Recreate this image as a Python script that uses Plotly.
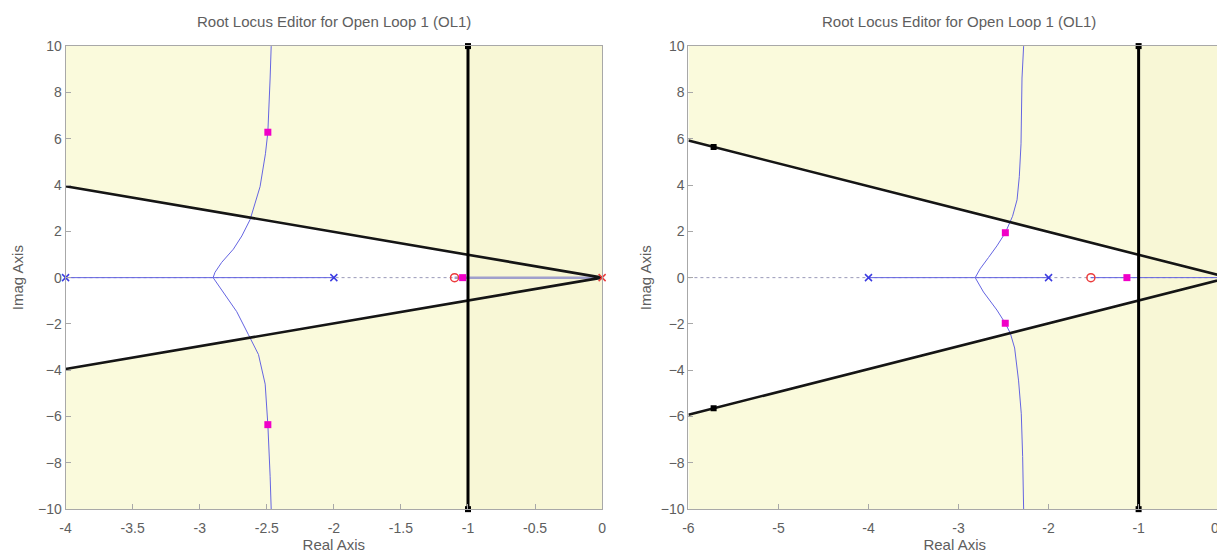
import plotly.graph_objects as go

# ---------------- data ----------------
title_text = "Root Locus Editor for Open Loop 1 (OL1)"
x_label = "Real Axis"
y_label = "Imag Axis"

y_range = [-10, 10]
y_ticks = [-10, -8, -6, -4, -2, 0, 2, 4, 6, 8, 10]

# left editor
L_x_range = [-4, 0]
L_x_ticks = [-4, -3.5, -3, -2.5, -2, -1.5, -1, -0.5, 0]
L_x_ticklabels = ["-4", "-3.5", "-3", "-2.5", "-2", "-1.5", "-1", "-0.5", "0"]
L_sigma = -1.0                    # settling-time constraint (vertical line)
L_damp_edge = (-4.0, 3.95)        # damping line end point at left border
L_plant_poles = [-4.0, -2.0]
L_comp_poles = [0.0]
L_comp_zeros = [-1.1]
L_cl_re = [-1.04, -2.492, -2.492]
L_cl_im = [0.0, 6.28, -6.35]
L_real_locus_a = [-4.0, -2.0]
L_real_locus_b = [-1.1, 0.0]
L_up_x = [-2.90, -2.886, -2.836, -2.749, -2.686, -2.624, -2.587, -2.55, -2.51, -2.492, -2.475, -2.467]
L_up_y = [0.0, 0.23, 0.66, 1.23, 1.80, 2.51, 3.22, 3.93, 5.35, 6.28, 8.62, 10.0]
L_lo_x = [-2.90, -2.824, -2.724, -2.637, -2.562, -2.512, -2.492, -2.475, -2.467]
L_lo_y = [0.0, -0.62, -1.47, -2.46, -3.32, -4.6, -6.35, -8.58, -10.0]

# right editor
R_x_range = [-6, -0.085]
R_x_ticks = [-6, -5, -4, -3, -2, -1, 0]
R_x_ticklabels = ["-6", "-5", "-4", "-3", "-2", "-1", "0"]
R_sigma = -1.0
R_damp_edge = (-6.0, 5.92)
R_damp_handle = (-5.72, 5.64)
R_plant_poles = [-4.0, -2.0]
R_comp_poles = [0.0]
R_comp_zeros = [-1.53]
R_cl_re = [-1.13, -2.48, -2.481]
R_cl_im = [0.0, 1.94, -1.97]
R_real_locus_a = [-4.0, -2.0]
R_real_locus_b = [-1.53, 0.0]
R_up_x = [-2.815, -2.76, -2.667, -2.574, -2.48, -2.444, -2.40, -2.35, -2.325, -2.306, -2.303, -2.295, -2.277]
R_up_y = [0.0, 0.38, 0.87, 1.37, 1.94, 2.29, 2.65, 3.36, 4.36, 5.78, 7.2, 8.62, 10.0]
R_lo_x = [-2.815, -2.723, -2.574, -2.481, -2.425, -2.377, -2.333, -2.303, -2.288, -2.277]
R_lo_y = [0.0, -0.62, -1.4, -1.97, -2.4, -3.04, -4.46, -5.88, -7.73, -10.0]

# ---------------- styles ----------------
FONT = "Liberation Sans, Arial, sans-serif"
TXT = "#5E5E5E"
AX = "#A8A8A8"
YEL = "#FAFADC"
YEL2 = "#F8F7D6"
LOCUS = "rgb(100,100,225)"
POLE = "rgb(60,60,225)"
COMP = "rgb(235,60,60)"
MAG = "#F000C8"

fig = go.Figure()


def add_editor(xa, ya, xr, sigma, edge, plant, cpoles, czeros, clre, clim,
               ra, rb, upx, upy, lox, loy, handle=None, real_thick=False):
    xmin, xmax = xr[0], 0.0
    ex, ey = edge
    y_at_sigma = ey * sigma / ex
    common = dict(xaxis=xa, yaxis=ya, showlegend=False, hoverinfo="skip")
    # forbidden regions (damping, left of sigma)
    fig.add_trace(go.Scatter(x=[xmin, sigma, sigma, xmin, xmin],
                             y=[y_range[1], y_range[1], y_at_sigma, ey, y_range[1]],
                             fill="toself", fillcolor=YEL, mode="none", **common))
    fig.add_trace(go.Scatter(x=[xmin, sigma, sigma, xmin, xmin],
                             y=[y_range[0], y_range[0], -y_at_sigma, -ey, y_range[0]],
                             fill="toself", fillcolor=YEL, mode="none", **common))
    # settling region right of sigma
    fig.add_trace(go.Scatter(x=[sigma, xmax, xmax, sigma, sigma],
                             y=[y_range[0], y_range[0], y_range[1], y_range[1], y_range[0]],
                             fill="toself", fillcolor=YEL2, mode="none", **common))
    # dotted real axis
    fig.add_trace(go.Scatter(x=[xmin, xmax], y=[0, 0], mode="lines",
                             line=dict(color="#9A9AB8", width=1, dash="dot"), **common))
    # real-axis locus
    fig.add_trace(go.Scatter(x=ra, y=[0, 0], mode="lines",
                             line=dict(color=LOCUS, width=1), **common))
    fig.add_trace(go.Scatter(x=rb, y=[0, 0], mode="lines",
                             line=dict(color="#A0A0CC" if real_thick else LOCUS,
                                       width=2.5 if real_thick else 1), **common))
    # complex branches
    fig.add_trace(go.Scatter(x=upx, y=upy, mode="lines", line=dict(color=LOCUS, width=1), **common))
    fig.add_trace(go.Scatter(x=lox, y=loy, mode="lines", line=dict(color=LOCUS, width=1), **common))
    # damping constraint lines
    fig.add_trace(go.Scatter(x=[ex, 0, ex], y=[ey, 0, -ey], mode="lines",
                             line=dict(color="#151515", width=2.6), **common))
    # settling constraint line
    fig.add_trace(go.Scatter(x=[sigma, sigma], y=y_range, mode="lines+markers",
                             line=dict(color="#000000", width=3),
                             marker=dict(symbol="square", size=6, color="#000000"),
                             cliponaxis=False, **common))
    if handle is not None:
        fig.add_trace(go.Scatter(x=[handle[0], handle[0]], y=[handle[1], -handle[1]],
                                 mode="markers", marker=dict(symbol="square", size=6, color="#000000"),
                                 **common))
    # poles / zeros
    fig.add_trace(go.Scatter(x=plant, y=[0] * len(plant), mode="markers", cliponaxis=False,
                             marker=dict(symbol="x-thin", size=7, color=POLE,
                                         line=dict(color=POLE, width=1.5)), **common))
    fig.add_trace(go.Scatter(x=cpoles, y=[0] * len(cpoles), mode="markers", cliponaxis=False,
                             marker=dict(symbol="x-thin", size=7, color=COMP,
                                         line=dict(color=COMP, width=1.5)), **common))
    fig.add_trace(go.Scatter(x=czeros, y=[0] * len(czeros), mode="markers", cliponaxis=False,
                             marker=dict(symbol="circle-open", size=8, color=COMP,
                                         line=dict(color=COMP, width=1.5)), **common))
    # closed-loop poles
    fig.add_trace(go.Scatter(x=clre, y=clim, mode="markers", cliponaxis=False,
                             marker=dict(symbol="square", size=7, color=MAG), **common))


add_editor("x", "y", L_x_range, L_sigma, L_damp_edge, L_plant_poles, L_comp_poles, L_comp_zeros,
           L_cl_re, L_cl_im, L_real_locus_a, L_real_locus_b, L_up_x, L_up_y, L_lo_x, L_lo_y,
           real_thick=True)
add_editor("x2", "y2", R_x_range, R_sigma, R_damp_edge, R_plant_poles, R_comp_poles, R_comp_zeros,
           R_cl_re, R_cl_im, R_real_locus_a, R_real_locus_b, R_up_x, R_up_y, R_lo_x, R_lo_y,
           handle=R_damp_handle)

# page body has an 8px margin: lay out in window pixels, shifted by that offset
OFF = 8
W, H = 1225 - OFF, 556 - OFF


def px_x(p):
    return (p - OFF) / W


def px_y(p):
    return 1 - (p - OFF) / H


L_dom = [px_x(60), px_x(601)]
R_dom = [px_x(688), 1.0]
Y_dom = [px_y(516), px_y(39)]

TICKF = dict(family=FONT, size=14, color=TXT)
LABF = dict(family=FONT, size=15, color=TXT)

axis_common = dict(showgrid=False, zeroline=False, showline=True, linecolor=AX, linewidth=1,
                   ticks="inside", ticklen=5, tickcolor=AX, tickfont=TICKF)

fig.update_layout(
    width=W, height=H, margin=dict(l=0, r=0, t=0, b=0),
    paper_bgcolor="white", plot_bgcolor="white",
    font=dict(family=FONT, size=14, color=TXT),
    xaxis=dict(domain=L_dom, range=L_x_range, tickvals=L_x_ticks, ticktext=L_x_ticklabels,
               mirror=True, anchor="y", ticklabelstandoff=6,
               title=dict(text=x_label, font=LABF, standoff=4), **axis_common),
    yaxis=dict(domain=Y_dom, range=y_range, tickvals=y_ticks, mirror=True, anchor="x",
               title=dict(text=y_label, font=LABF, standoff=10), **axis_common),
    xaxis2=dict(domain=R_dom, range=R_x_range, tickvals=R_x_ticks, ticktext=R_x_ticklabels,
                mirror=True, anchor="y2", ticklabelstandoff=6,
                title=dict(text=x_label, font=LABF, standoff=4), **axis_common),
    yaxis2=dict(domain=Y_dom, range=y_range, tickvals=y_ticks, mirror=False, anchor="x2",
                title=dict(text=y_label, font=LABF, standoff=5), **axis_common),
    annotations=[
        dict(text=title_text, xref="paper", yref="paper", x=sum(L_dom) / 2, y=px_y(14),
             showarrow=False, font=LABF, xanchor="center", yanchor="middle"),
        dict(text=title_text, xref="paper", yref="paper", x=(px_x(688) + px_x(1233)) / 2, y=px_y(14),
             showarrow=False, font=LABF, xanchor="center", yanchor="middle"),
        dict(text="0", xref="paper", yref="paper", x=1.0, y=Y_dom[0], yshift=-9,
             xanchor="right", yanchor="top", showarrow=False, font=TICKF),
    ],
)

fig.write_html("out.html")
